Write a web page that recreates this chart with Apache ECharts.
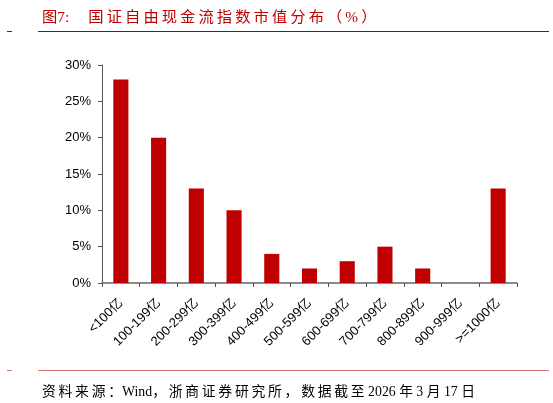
<!DOCTYPE html>
<html><head><meta charset="utf-8">
<script src="https://cdn.jsdelivr.net/npm/echarts@6/dist/echarts.min.js"></script>
<style>html,body{margin:0;padding:0;background:#fff}#c{width:553px;height:403px}</style>
</head><body><div id="c"></div>
<script>
const categories = ['<100亿','100-199亿','200-299亿','300-399亿','400-499亿','500-599亿','600-699亿','700-799亿','800-899亿','900-999亿','>=1000亿'];
const values = [28, 20, 13, 10, 4, 2, 3, 5, 2, 0, 13];
const yTicks = [0, 5, 10, 15, 20, 25, 30];
const titleText = '图7:     国证自由现金流指数市值分布（%）';
const sourceText = '资料来源：Wind，浙商证券研究所，数据截至 2026 年 3 月 17 日';

// add a thin space only between two consecutive CJK / full-width characters
function spread(s){
  const isCJK = c => /[\u3000-\u9fff\uff00-\uffef]/.test(c) || c === '%';
  const a = Array.from(s); let out = '';
  for (let i = 0; i < a.length; i++){
    out += a[i];
    if (i < a.length-1 && isCJK(a[i]) && isCJK(a[i+1])) out += '\u2009';
  }
  return out;
}

const chart = echarts.init(document.getElementById('c'), null, {renderer:'canvas'});
chart.setOption({
  animation:false,
  backgroundColor:'#fff',
  title:[
    {text:spread(titleText), left:37, top:5, textStyle:{color:'#c00000', fontSize:15.3, fontWeight:'normal', fontFamily:'"Liberation Serif","Noto Sans CJK SC", serif'}},
    {text:spread(sourceText), left:37, top:380, textStyle:{color:'#000', fontSize:13.8, fontWeight:'normal', fontFamily:'"Liberation Serif","Noto Sans CJK SC", serif'}}
  ],
  graphic:[
    {type:'line', shape:{x1:38,y1:31.5,x2:549,y2:31.5}, style:{stroke:'#b00000', lineWidth:1}},
    {type:'line', shape:{x1:7,y1:31.5,x2:12,y2:31.5}, style:{stroke:'#b00000', lineWidth:1}},
    {type:'line', shape:{x1:38,y1:370.5,x2:549,y2:370.5}, style:{stroke:'#d97a7a', lineWidth:1}},
    {type:'line', shape:{x1:7,y1:370.5,x2:12,y2:370.5}, style:{stroke:'#d97a7a', lineWidth:1}}
  ],
  grid:{left:102, right:36, top:65, bottom:120, containLabel:false},
  xAxis:{
    type:'category', data:categories,
    axisLine:{lineStyle:{color:'#666', width:1.5}},
    axisTick:{show:true, alignWithLabel:false, length:4, lineStyle:{color:'#555'}},
    axisLabel:{rotate:45, color:'#000', fontSize:13, fontFamily:'"Liberation Sans","Noto Sans CJK SC", sans-serif', margin:18, interval:0}
  },
  yAxis:{
    type:'value', min:0, max:30, interval:5,
    axisLine:{show:true, lineStyle:{color:'#555', width:1}},
    axisTick:{show:true, length:4, lineStyle:{color:'#555'}},
    splitLine:{show:false},
    axisLabel:{formatter:v=>yTicks.includes(v)?v+'%':'', color:'#000', fontSize:13, fontFamily:'"Liberation Sans", sans-serif', margin:11}
  },
  series:[{type:'bar', data:values, barWidth:'40%', itemStyle:{color:'#c00000'}}]
});
</script></body></html>
